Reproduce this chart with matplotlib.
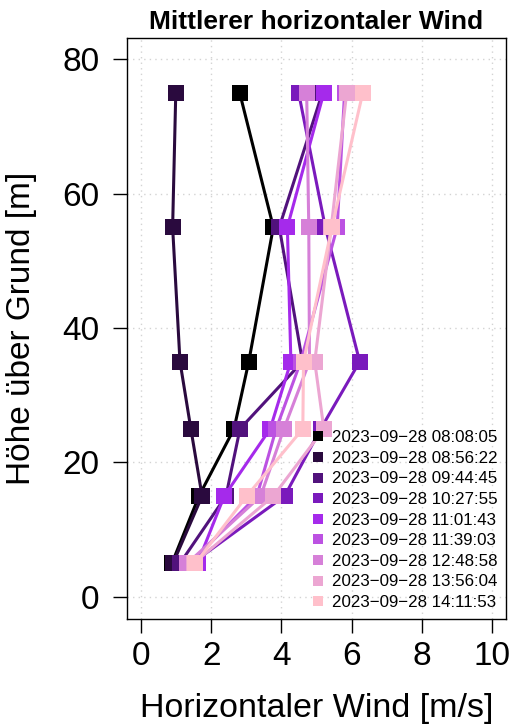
import matplotlib
matplotlib.use('Agg')
import matplotlib.pyplot as plt

plt.rcParams['font.family'] = ['Liberation Sans', 'DejaVu Sans']

# Heights above ground [m]
heights = [5, 15, 25, 35, 55, 75]

# Measurement times (legend labels)
times = ['2023\u221209\u221228 08:08:05', '2023\u221209\u221228 08:56:22',
         '2023\u221209\u221228 09:44:45', '2023\u221209\u221228 10:27:55',
         '2023\u221209\u221228 11:01:43', '2023\u221209\u221228 11:39:03',
         '2023\u221209\u221228 12:48:58', '2023\u221209\u221228 13:56:04',
         '2023\u221209\u221228 14:11:53']

# Mean horizontal wind [m/s] per profile, bottom to top
wind_0808 = [0.88, 1.65, 2.65, 3.07, 3.77, 2.81]
wind_0856 = [0.91, 1.74, 1.42, 1.11, 0.90, 0.99]
wind_0944 = [1.11, 2.42, 2.82, 4.60, 3.94, 5.17]
wind_1027 = [1.45, 4.09, 5.12, 6.23, 5.25, 4.49]
wind_1101 = [1.61, 2.37, 3.68, 4.27, 4.17, 5.21]
wind_1139 = [1.40, 3.30, 3.85, 4.55, 5.59, 5.80]
wind_1248 = [1.32, 3.41, 4.07, 4.80, 4.78, 4.72]
wind_1356 = [1.50, 3.77, 5.21, 4.95, 5.42, 5.86]
wind_1411 = [1.55, 3.01, 4.61, 4.63, 5.44, 6.32]

profiles = [wind_0808, wind_0856, wind_0944, wind_1027, wind_1101,
            wind_1139, wind_1248, wind_1356, wind_1411]

# black -> purple -> pink ramp
colors = ['#000000', '#2A0A3E', '#51127C', '#7A1ABC', '#A52AEB',
          '#BC52E2', '#D680D8', '#ECA6D2', '#FFC0CB']

fig = plt.figure(figsize=(5.10, 7.24), dpi=100)
ax = fig.add_axes([127 / 510, 1 - 618.5 / 724, 379 / 510, 581 / 724])

ax.set_xlim(-0.4, 10.4)
ax.set_ylim(-3.2, 83.2)
ax.set_xticks([0, 2, 4, 6, 8, 10])
ax.set_yticks([0, 20, 40, 60, 80])
ax.grid(True, color='lightgray', linestyle=(0, (1, 3)), linewidth=1)
ax.set_axisbelow(True)

for wind, col, lab in zip(profiles, colors, times):
    ax.plot(wind, heights, color=col, linewidth=2.2, marker='s',
            markersize=11.5, markeredgewidth=0, label=lab)

for sp in ax.spines.values():
    sp.set_linewidth(1.0)
ax.tick_params(labelsize=24, length=10, width=1)
ax.tick_params(axis='x', pad=6)
ax.tick_params(axis='y', pad=10)

ax.set_title('Mittlerer horizontaler Wind', fontsize=19, fontweight='bold', pad=6)
ax.set_xlabel('Horizontaler Wind [m/s]', fontsize=24.5, labelpad=15)
ax.set_ylabel('H\u00f6he \u00fcber Grund [m]', fontsize=24, labelpad=18)

handles = [plt.Line2D([], [], color=c, marker='s', linestyle='none',
                      markersize=7.5, markeredgewidth=0) for c in colors]
ax.legend(handles, times, loc='lower right', frameon=False, fontsize=12.2,
          handlelength=0.8, handletextpad=0.4, labelspacing=0.33,
          borderaxespad=0.1, borderpad=0.4)

fig.savefig('out.png', dpi=100)
